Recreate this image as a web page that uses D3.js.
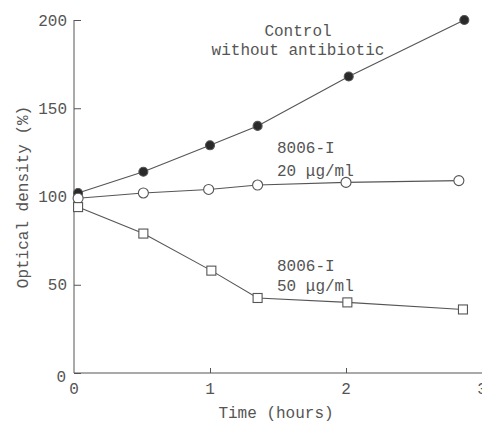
<!DOCTYPE html>
<html lang="en">
<head>
  <meta charset="UTF-8" />
  <title>Optical density vs time</title>
  <script src="https://d3js.org/d3.v7.min.js"></script>
  <style>
    body { margin: 0; background: #fff; }
    svg { display: block; }
    text { font-family: "Liberation Mono", "DejaVu Sans Mono", monospace; fill: #555; }
  </style>
</head>
<body>
<svg width="482" height="422"></svg>
<script>
  // data
  const controlTime = [0.03, 0.51, 1.0, 1.35, 2.02, 2.87];
  const controlOD = [102, 114, 129, 140, 168, 200];
  const low20Time = [0.03, 0.51, 0.99, 1.35, 2.0, 2.83];
  const low20OD = [99, 102, 104, 106.5, 108, 109];
  const high50Time = [0.03, 0.51, 1.01, 1.35, 2.01, 2.86];
  const high50OD = [94, 79, 58, 42.5, 40, 36];
  const yTicks = [0, 50, 100, 150, 200];
  const xTicks = [0, 1, 2, 3];

  const svg = d3.select("svg");
  const ink = "#555";

  const x = d3.scaleLinear().domain([0, 3]).range([74, 482]);
  const y = d3.scaleLinear().domain([0, 200]).range([373, 20]);

  // axes
  const yAxis = svg.append("g").attr("transform", "translate(74,0)")
    .call(d3.axisRight(y).tickValues(yTicks).tickSize(7).tickFormat(""));
  yAxis.select(".domain").attr("d", `M0,${y(0)}V${y(200)}`);
  yAxis.selectAll("line, path").attr("stroke", ink);

  const xAxis = svg.append("g").attr("transform", `translate(0,${y(0)})`)
    .call(d3.axisTop(x).tickValues([1, 2]).tickSize(5).tickFormat(""));
  xAxis.select(".domain").attr("d", `M${x(0)},0H${x(3)}`);
  xAxis.selectAll("line, path").attr("stroke", ink);

  svg.append("g").selectAll("text").data(yTicks).join("text")
    .attr("x", d => d === 0 ? 66 : 67)
    .attr("y", d => y(d) + (d === 0 ? 3 : 0))
    .attr("dy", "0.35em")
    .attr("text-anchor", "end")
    .style("font-size", "16px")
    .text(d => d);

  svg.append("g").selectAll("text").data(xTicks).join("text")
    .attr("x", d => x(d))
    .attr("y", y(0) + 21)
    .attr("text-anchor", "middle")
    .style("font-size", "16px")
    .text(d => d);

  svg.append("text")
    .attr("x", 276).attr("y", 418)
    .attr("text-anchor", "middle")
    .style("font-size", "16px")
    .text("Time (hours)");

  svg.append("text")
    .attr("transform", "translate(28,197) rotate(-90)")
    .attr("text-anchor", "middle")
    .style("font-size", "16px")
    .text("Optical density (%)");

  // series
  const line = d3.line().x(d => x(d[0])).y(d => y(d[1]));
  const series = [
    { pts: d3.zip(controlTime, controlOD), shape: "dot" },
    { pts: d3.zip(low20Time, low20OD), shape: "ring" },
    { pts: d3.zip(high50Time, high50OD), shape: "square" }
  ];

  series.forEach(s => {
    svg.append("path")
      .datum(s.pts)
      .attr("fill", "none")
      .attr("stroke", ink)
      .attr("stroke-width", 1.1)
      .attr("d", line);
  });

  series.forEach(s => {
    const g = svg.append("g");
    if (s.shape === "square") {
      g.selectAll("rect").data(s.pts).join("rect")
        .attr("x", d => x(d[0]) - 4.5).attr("y", d => y(d[1]) - 4.5)
        .attr("width", 9).attr("height", 9)
        .attr("fill", "#fff").attr("stroke", ink).attr("stroke-width", 1.1);
    } else {
      g.selectAll("circle").data(s.pts).join("circle")
        .attr("cx", d => x(d[0])).attr("cy", d => y(d[1]))
        .attr("r", s.shape === "dot" ? 4.5 : 5)
        .attr("fill", s.shape === "dot" ? "#2a2a2a" : "#fff")
        .attr("stroke", ink).attr("stroke-width", 1.1);
    }
  });

  // annotations
  const notes = [
    { x: 298, y: 36, text: "Control", anchor: "middle" },
    { x: 298, y: 55, text: "without antibiotic", anchor: "middle" },
    { x: 277, y: 153, text: "8006-I", anchor: "start" },
    { x: 277, y: 176, text: "20 μg/ml", anchor: "start" },
    { x: 277, y: 271, text: "8006-I", anchor: "start" },
    { x: 277, y: 291, text: "50 μg/ml", anchor: "start" }
  ];
  svg.append("g").selectAll("text").data(notes).join("text")
    .attr("x", d => d.x).attr("y", d => d.y)
    .attr("text-anchor", d => d.anchor)
    .style("font-size", "16px")
    .text(d => d.text);
</script>
</body>
</html>
